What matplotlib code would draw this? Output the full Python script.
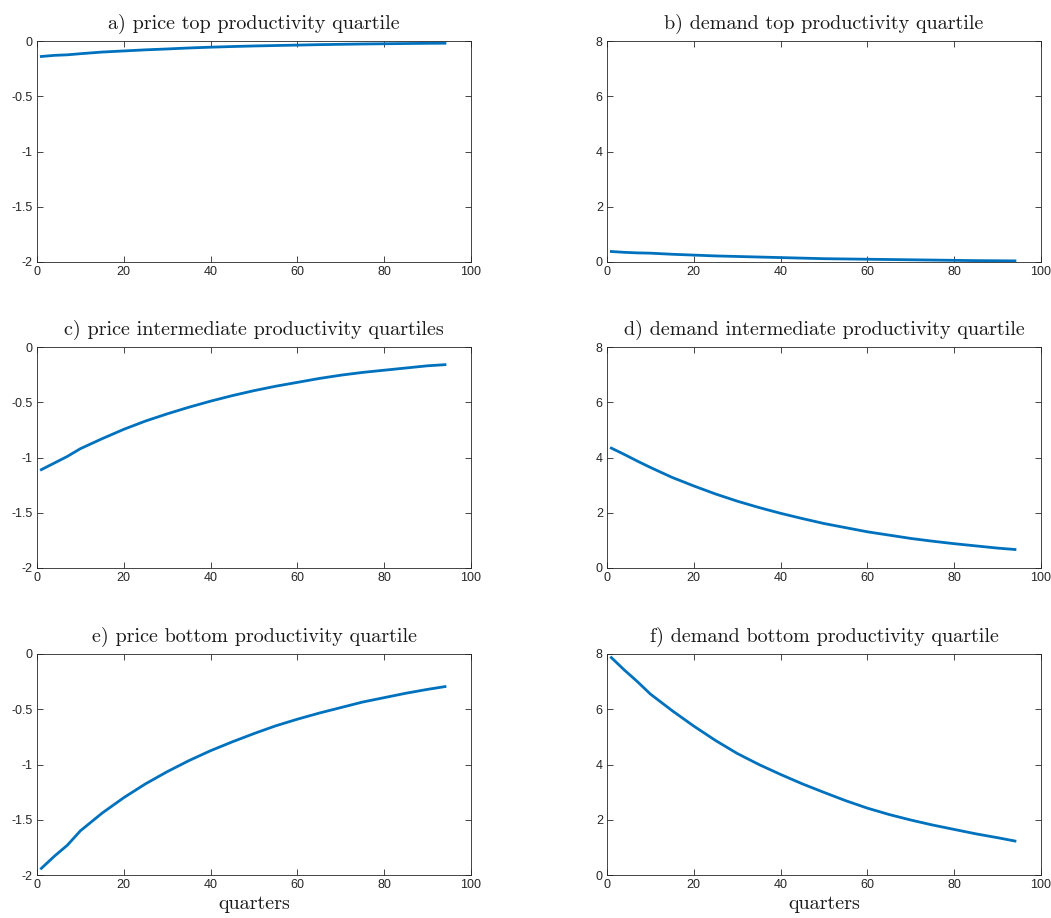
import numpy as np
import matplotlib.pyplot as plt
from matplotlib.ticker import FormatStrFormatter

quarters = [1, 4, 7, 10, 15, 20, 25, 30, 35, 40, 45, 50, 55, 60, 65, 70, 75, 80, 85, 90, 94]

price_top = [-0.14, -0.13, -0.125, -0.115, -0.10, -0.09, -0.08, -0.072, -0.063, -0.056,
             -0.05, -0.045, -0.041, -0.037, -0.033, -0.03, -0.027, -0.025, -0.023, -0.021, -0.02]
demand_top = [0.38, 0.35, 0.33, 0.32, 0.28, 0.25, 0.22, 0.20, 0.18, 0.16,
              0.14, 0.12, 0.11, 0.10, 0.09, 0.08, 0.07, 0.06, 0.05, 0.045, 0.04]
price_mid = [-1.11, -1.05, -0.99, -0.92, -0.83, -0.745, -0.67, -0.605, -0.545, -0.49,
             -0.44, -0.395, -0.355, -0.32, -0.285, -0.255, -0.23, -0.21, -0.19, -0.17, -0.16]
demand_mid = [4.34, 4.11, 3.87, 3.64, 3.28, 2.97, 2.68, 2.42, 2.19, 1.98,
              1.79, 1.61, 1.46, 1.31, 1.19, 1.07, 0.97, 0.88, 0.80, 0.72, 0.67]
price_bot = [-1.94, -1.83, -1.73, -1.60, -1.44, -1.30, -1.175, -1.065, -0.965, -0.875,
             -0.795, -0.72, -0.65, -0.59, -0.535, -0.485, -0.435, -0.395, -0.355, -0.32, -0.295]
demand_bot = [7.87, 7.42, 7.0, 6.55, 5.95, 5.39, 4.87, 4.40, 4.0, 3.64,
              3.30, 2.99, 2.69, 2.42, 2.19, 1.99, 1.81, 1.65, 1.49, 1.35, 1.23]

titles = ['a) price top productivity quartile', 'b) demand top productivity quartile',
          'c) price intermediate productivity quartiles', 'd) demand intermediate productivity quartile',
          'e) price bottom productivity quartile', 'f) demand bottom productivity quartile']
series = [price_top, demand_top, price_mid, demand_mid, price_bot, demand_bot]

plt.rcParams['font.family'] = 'Liberation Sans'
fig = plt.figure(figsize=(10.51, 9.18), dpi=100)

lefts = [37 / 1051, 607 / 1051]
bottoms = [1 - 262 / 918, 1 - 568 / 918, 1 - 875 / 918]
w = 434 / 1051
h = 221 / 918

for i in range(6):
    r, c = divmod(i, 2)
    ax = fig.add_axes([lefts[c], bottoms[r], w, h])
    ax.plot(quarters, series[i], color='#0072BD', lw=2)
    ax.set_xlim(0, 100)
    ax.set_xticks([0, 20, 40, 60, 80, 100])
    if c == 0:
        ax.set_ylim(-2, 0)
        ax.set_yticks([-2, -1.5, -1, -0.5, 0])
    else:
        ax.set_ylim(0, 8)
        ax.set_yticks([0, 2, 4, 6, 8])
    ax.yaxis.set_major_formatter(FormatStrFormatter('%g'))
    ax.tick_params(direction='in', top=True, right=True, length=4, width=0.6,
                   labelsize=9, colors='#262626', pad=3)
    for s in ax.spines.values():
        s.set_color('#262626')
        s.set_linewidth(0.6)
    ax.set_title(titles[i], fontfamily='cmr10', fontsize=14.5, pad=8.5, color='#1a1a1a')
    if r == 2:
        ax.set_xlabel('quarters', fontfamily='cmr10', fontsize=14.5, labelpad=3, color='#1a1a1a')

fig.savefig('out.png', dpi=100)
